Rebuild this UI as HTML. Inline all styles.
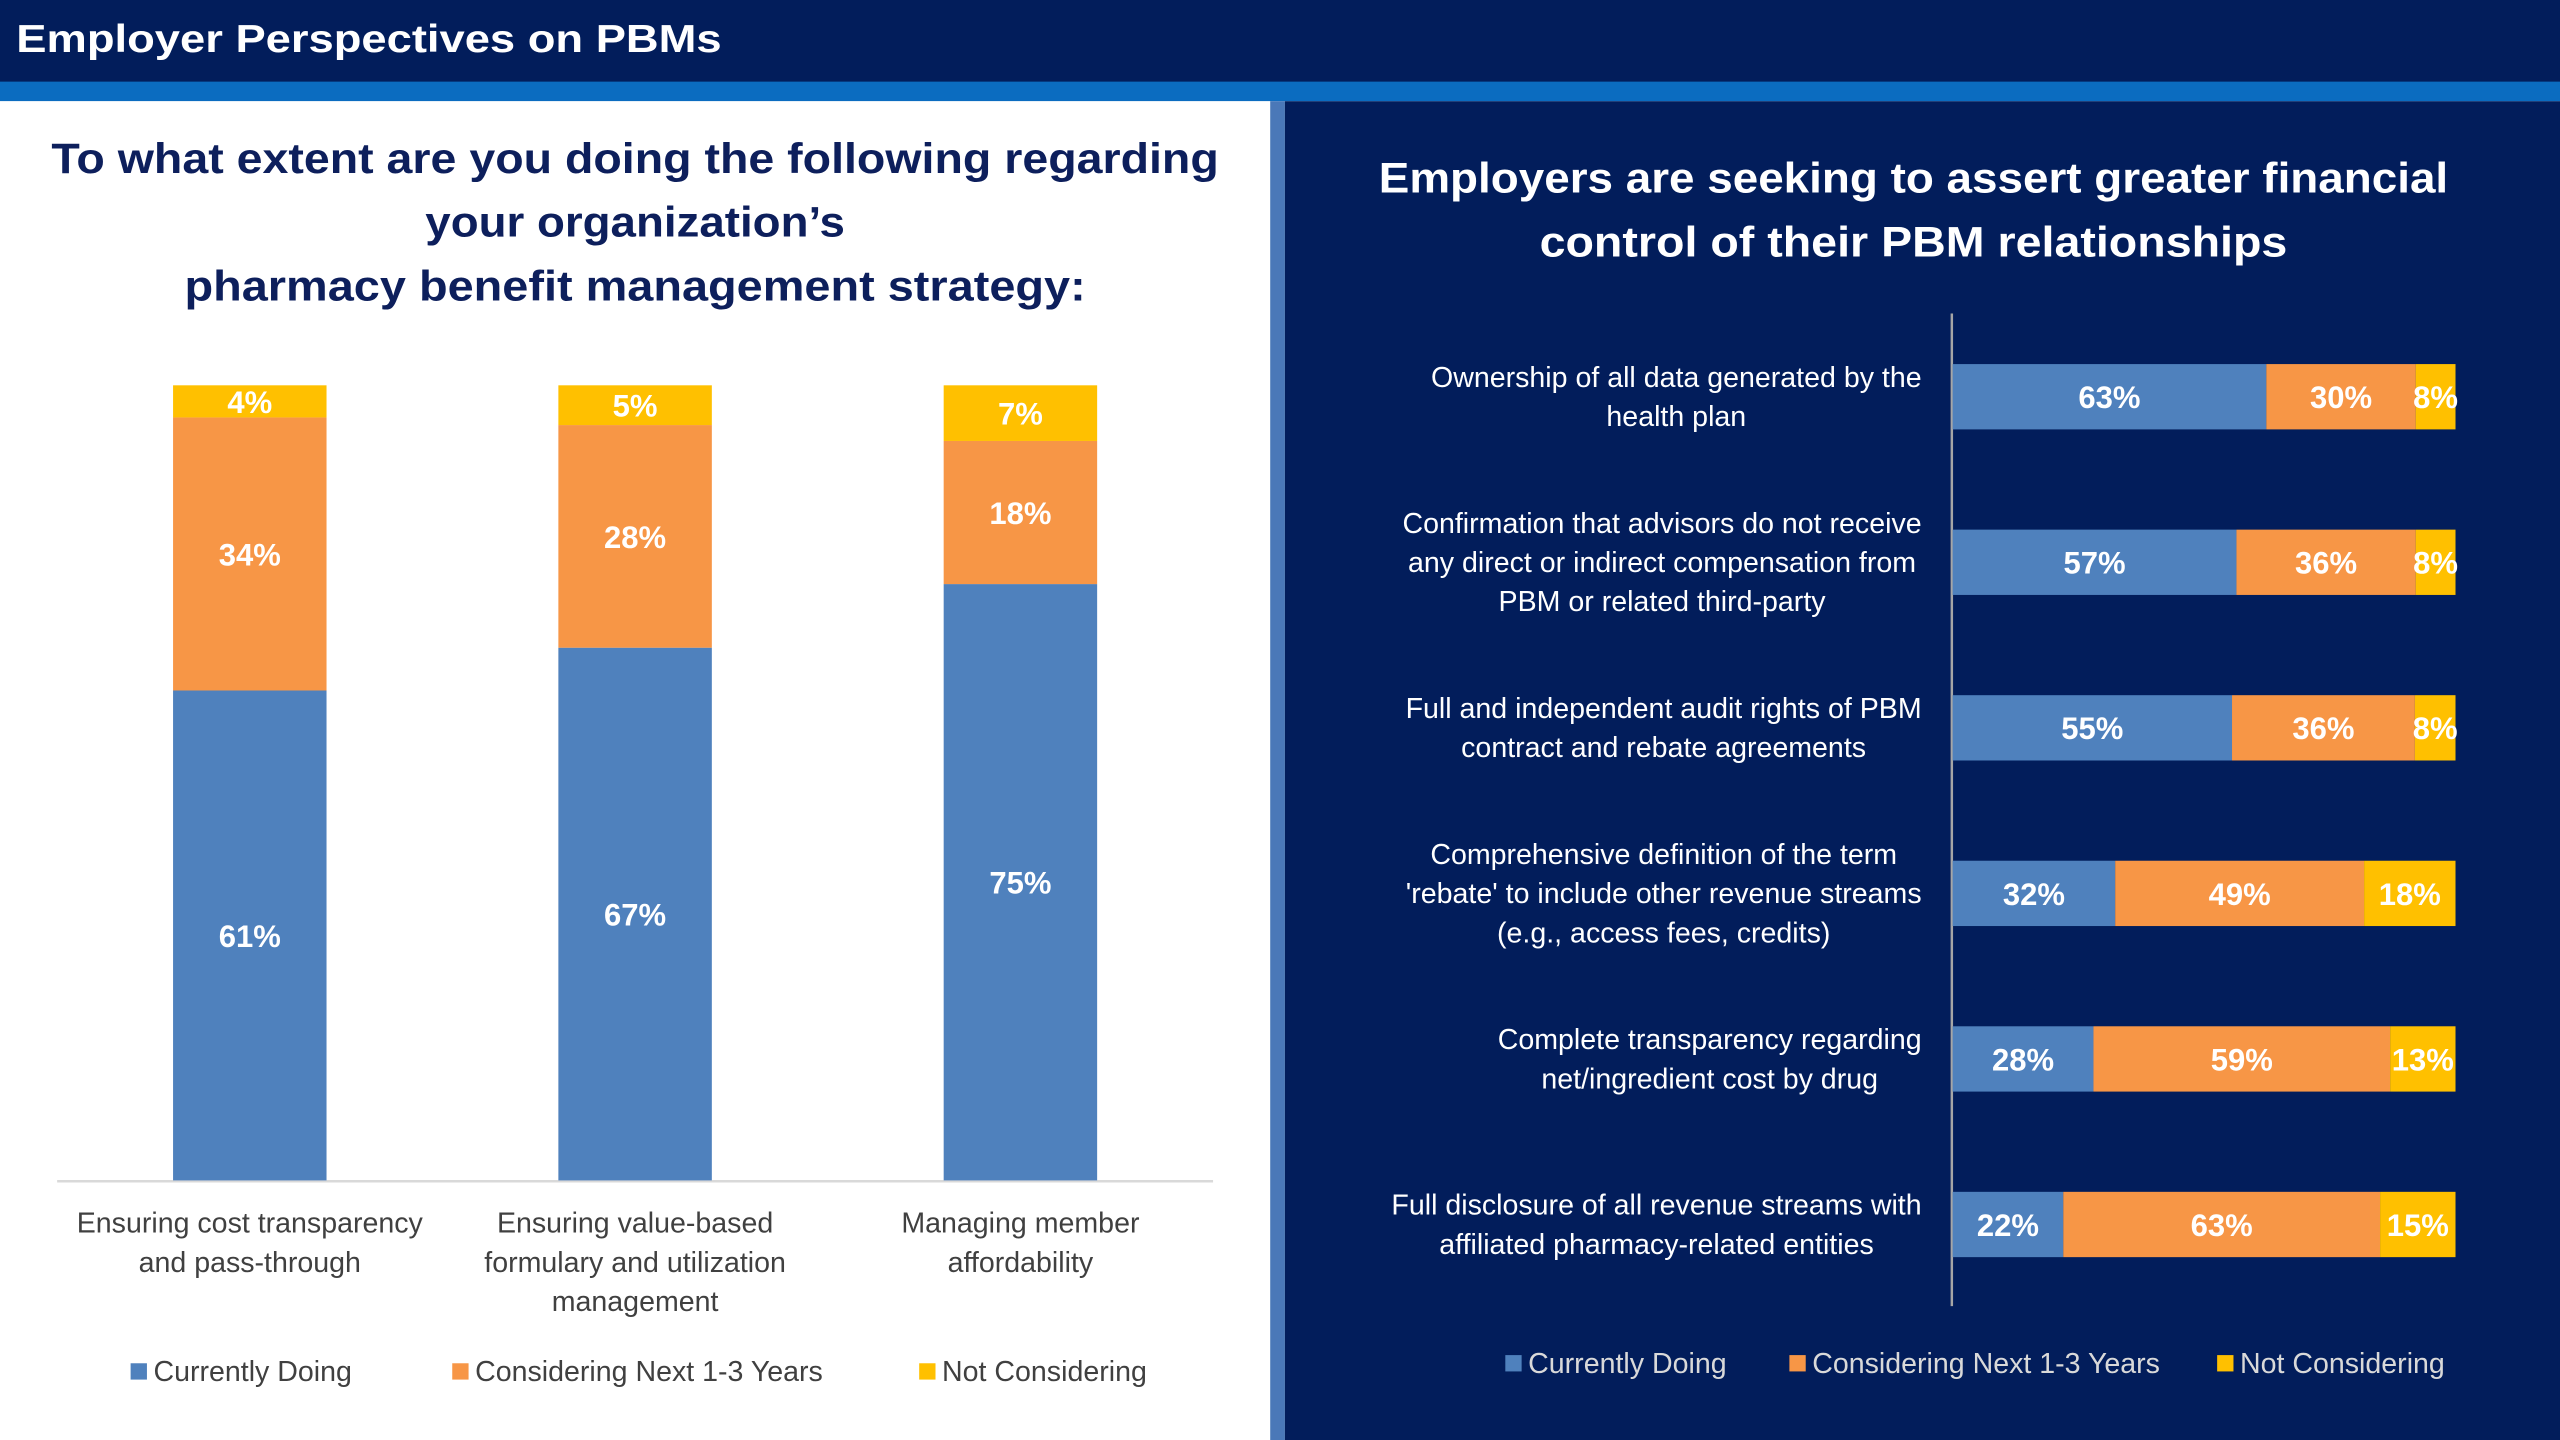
<!DOCTYPE html>
<html><head><meta charset="utf-8"><style>
html,body{margin:0;padding:0;width:2560px;height:1440px;overflow:hidden;background:#fff}
svg{display:block}
text{font-family:"Liberation Sans",sans-serif}
</style></head><body>
<svg id="s" width="2560" height="1440" viewBox="0 0 1568 882" xmlns="http://www.w3.org/2000/svg">
<rect x="0" y="0" width="1568" height="51" fill="#021d5b"/>
<rect x="0" y="50" width="1568" height="12" fill="#0b6cc0"/>
<text x="10" y="32" fill="#fff" font-size="24" font-weight="bold" textLength="432" lengthAdjust="spacingAndGlyphs">Employer Perspectives on PBMs</text>
<rect x="0" y="62" width="778" height="820" fill="#fff"/>
<rect x="778" y="62" width="9" height="820" fill="#4a78b8"/>
<rect x="787" y="62" width="781" height="820" fill="#021d5b"/>
<g fill="#0d1f5c" font-size="26" font-weight="bold" text-anchor="middle">
<text x="389" y="106" textLength="715" lengthAdjust="spacingAndGlyphs">To what extent are you doing the following regarding</text>
<text x="389" y="145" textLength="257" lengthAdjust="spacingAndGlyphs">your organization’s</text>
<text x="389" y="184" textLength="552" lengthAdjust="spacingAndGlyphs">pharmacy benefit management strategy:</text>
</g>
<g fill="#fff" font-size="26" font-weight="bold" text-anchor="middle">
<text x="1172" y="118" textLength="655" lengthAdjust="spacingAndGlyphs">Employers are seeking to assert greater financial</text>
<text x="1172" y="157" textLength="458" lengthAdjust="spacingAndGlyphs">control of their PBM relationships</text>
</g>
<g id="left"></g>
<g id="right"></g>
</svg>
<script>
const colors=["#4f81bd","#f79646","#ffc000"];
const seriesNames=["Currently Doing","Considering Next 1-3 Years","Not Considering"];
// Left chart data
const leftCategories=[["Ensuring cost transparency","and pass-through"],["Ensuring value-based","formulary and utilization","management"],["Managing member","affordability"]];
const leftDoing=[61,67,75];
const leftConsidering=[34,28,18];
const leftNot=[4,5,7];
// Right chart data
const rightCategories=[["Ownership of all data generated by the","health plan"],["Confirmation that advisors do not receive","any direct or indirect compensation from","PBM or related third-party"],["Full and independent audit rights of PBM","contract and rebate agreements"],["Comprehensive definition of the term","'rebate' to include other revenue streams","(e.g., access fees, credits)"],["Complete transparency regarding","net/ingredient cost by drug"],["Full disclosure of all revenue streams with","affiliated pharmacy-related entities"]];
const rightDoing=[63,57,55,32,28,22];
const rightConsidering=[30,36,36,49,59,63];
const rightNot=[8,8,8,18,13,15];

const NS="http://www.w3.org/2000/svg";
function mk(parent,tag,attrs,txt){const e=document.createElementNS(NS,tag);for(const k in attrs)e.setAttribute(k,attrs[k]);if(txt!=null)e.textContent=txt;parent.appendChild(e);return e;}

// Left chart (100% stacked)
const L=document.getElementById('left');
const baseY=723, fullH=487, barW=94;
const lx=i=>106+i*236;
const ly=(v,tot)=>baseY-v/tot*fullH;
const axL=mk(L,'line',{x1:35,y1:baseY+0.5,x2:743,y2:baseY+0.5,stroke:'#d9d9d9','stroke-width':1.5});


const leftSeries=[leftDoing,leftConsidering,leftNot];
leftCategories.forEach((cat,i)=>{
  let cum=0;
  const tot=leftSeries.reduce((s,a)=>s+a[i],0);
  leftSeries.forEach((ser,j)=>{
    const v=ser[i];
    const y0=ly(cum,tot), y1=ly(cum+v,tot);
    const r=mk(L,'rect',{x:lx(i),y:y1,width:barW,height:y0-y1,fill:colors[j]});
    
    
    const t=mk(L,'text',{x:lx(i)+barW/2,y:(y0+y1)/2+7,'text-anchor':'middle',fill:'#fff','font-size':19,'font-weight':'bold'},v+'%');
    
    
    cum+=v;
  });
  cat.forEach((line,k)=>{
    const t=mk(L,'text',{x:lx(i)+barW/2,y:755+k*24,'text-anchor':'middle',fill:'#404040','font-size':17.5},line);
    
    
  });
});
const legLX=[80,277,563];
seriesNames.forEach((n,j)=>{
  const r=mk(L,'rect',{x:legLX[j],y:835,width:10,height:10,fill:colors[j]});
  
  
  const t=mk(L,'text',{x:legLX[j]+14,y:846,fill:'#404040','font-size':17.5},n);
  
  
});

// Right chart (100% stacked)
const R=document.getElementById('right');
const x0=1196, fullW=308, barH=40;
const rx=(v,tot)=>x0+v/tot*fullW;
const rcy=i=>243+i*101.4;
const axR=mk(R,'line',{x1:1195.5,y1:192,x2:1195.5,y2:800,stroke:'#a6a6a6','stroke-width':1.5});


const rightSeries=[rightDoing,rightConsidering,rightNot];
rightCategories.forEach((cat,i)=>{
  let cum=0;
  const cy=rcy(i);
  const tot=rightSeries.reduce((s,a)=>s+a[i],0);
  rightSeries.forEach((ser,j)=>{
    const v=ser[i];
    const a=rx(cum,tot), b=rx(cum+v,tot);
    const r=mk(R,'rect',{x:a,y:cy-barH/2,width:b-a,height:barH,fill:colors[j]});
    
    
    const t=mk(R,'text',{x:(a+b)/2,y:cy+7,'text-anchor':'middle',fill:'#fff','font-size':19,'font-weight':'bold'},v+'%');
    
    
    cum+=v;
  });
  const n=cat.length;
  const g=mk(R,'g',{});
  
  
  const els=cat.map((line,k)=>{
    const t=mk(g,'text',{x:0,y:cy+6-(n-1)*12+k*24,'text-anchor':'middle',fill:'#fff','font-size':17.5},line);
    
    
    return t;
  });
  const w=Math.max(...els.map(e=>e.getComputedTextLength()));
  els.forEach(e=>e.setAttribute('x',1177-w/2));
});
const legRX=[922,1096,1358];
seriesNames.forEach((n,j)=>{
  const r=mk(R,'rect',{x:legRX[j],y:830,width:10,height:10,fill:colors[j]});
  
  
  const t=mk(R,'text',{x:legRX[j]+14,y:841,fill:'#d9d9d9','font-size':17.5},n);
  
  
});
</script>
</body></html>
